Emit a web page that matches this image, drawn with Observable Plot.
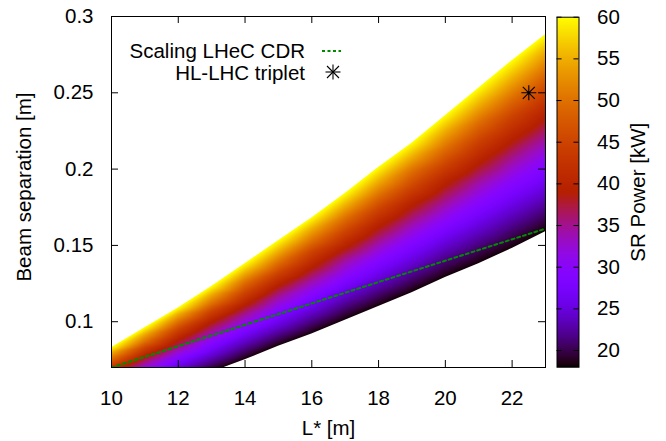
<!DOCTYPE html>
<html><head><meta charset="utf-8">
<script src="https://cdn.jsdelivr.net/npm/d3@7"></script>
<script src="https://cdn.jsdelivr.net/npm/@observablehq/plot@0.6"></script>
<style>
html,body{margin:0;padding:0;background:#fff;}
#wrap{position:relative;width:666px;height:441px;overflow:hidden;font-family:"Liberation Sans",Arial,sans-serif;}
#wrap svg{display:block}
#main{position:absolute;left:0;top:0}
#cbar{position:absolute;left:556px;top:0}
.leg{position:absolute;right:361px;font-size:20.5px;line-height:22px;white-space:nowrap;color:#000}
</style></head><body>
<div id="wrap"><div id="main"></div><div id="cbar"></div>
<div class="leg" style="top:40px">Scaling LHeC CDR</div>
<div class="leg" style="top:62px">HL-LHC triplet</div>
<svg style="position:absolute;left:318px;top:40px" width="32" height="45">
<line x1="4" y1="11" x2="23" y2="11" stroke="#008a00" stroke-width="2" stroke-dasharray="3,2.5"/>
<g stroke="#000" stroke-width="1.1" transform="translate(15,32)">
<line x1="-7.5" y1="0" x2="7.5" y2="0"/><line x1="0" y1="-7.5" x2="0" y2="7.5"/>
<line x1="-6" y1="-6" x2="6" y2="6"/><line x1="-6" y1="6" x2="6" y2="-6"/></g>
</svg>
</div>
<script>
// L* values (m) at which the SR-power contours were read
const lStar = [10, 11, 12, 13, 14, 15, 16, 17, 18, 19, 20, 21, 22, 23];
// SR power levels (kW) of the contours
const levels = [18, 25, 30, 35, 40, 45, 50, 55, 60];
// beam separation (m) of each contour at each L*
const sep18 = [0.045, 0.052, 0.060, 0.067, 0.075, 0.084, 0.092, 0.101, 0.110, 0.119, 0.129, 0.138, 0.148, 0.159];
const sep25 = [0.054, 0.062, 0.070, 0.079, 0.089, 0.098, 0.108, 0.119, 0.129, 0.140, 0.152, 0.163, 0.175, 0.187];
const sep30 = [0.059, 0.068, 0.077, 0.087, 0.097, 0.108, 0.119, 0.130, 0.142, 0.154, 0.166, 0.179, 0.192, 0.205];
const sep35 = [0.063, 0.073, 0.083, 0.094, 0.105, 0.117, 0.128, 0.141, 0.153, 0.166, 0.179, 0.193, 0.207, 0.221];
const sep40 = [0.068, 0.078, 0.089, 0.101, 0.112, 0.125, 0.137, 0.150, 0.164, 0.178, 0.192, 0.206, 0.221, 0.237];
const sep45 = [0.072, 0.083, 0.095, 0.107, 0.119, 0.132, 0.146, 0.159, 0.174, 0.188, 0.203, 0.219, 0.235, 0.251];
const sep50 = [0.076, 0.087, 0.100, 0.112, 0.126, 0.139, 0.153, 0.168, 0.183, 0.199, 0.214, 0.231, 0.247, 0.264];
const sep55 = [0.080, 0.092, 0.105, 0.118, 0.132, 0.146, 0.161, 0.176, 0.192, 0.208, 0.225, 0.242, 0.259, 0.277];
const sep60 = [0.083, 0.096, 0.109, 0.123, 0.138, 0.153, 0.168, 0.184, 0.201, 0.217, 0.235, 0.253, 0.271, 0.288];
// Scaling LHeC CDR line
const cdrL = [10, 23];
const cdrSep = [0.070, 0.161];
// HL-LHC triplet point
const starL = [22.5];
const starSep = [0.25];
// ticks
const xTicks = [10, 12, 14, 16, 18, 20, 22];
const yTicks = [0.1, 0.15, 0.2, 0.25, 0.3];
const cbTicks = [20, 25, 30, 35, 40, 45, 50, 55, 60];

const sepByLevel = [sep18, sep25, sep30, sep35, sep40, sep45, sep50, sep55, sep60];
const points = [];
levels.forEach((P, j) => lStar.forEach((L, i) => points.push({L, sep: sepByLevel[j][i], P})));

// gnuplot default palette (rgbformulae 7,5,15)
const cl = v => Math.max(0, Math.min(1, v));
const palette = t => d3.rgb(255 * cl(Math.sqrt(t)), 255 * cl(t * t * t), 255 * cl(Math.sin(2 * Math.PI * t))).toString();
const colorScale = {type: "linear", domain: [18, 60], interpolate: palette, clamp: true};

const starSymbol = {
  draw(ctx, size) {
    const r = Math.sqrt(size / Math.PI), a = r * 0.8;
    ctx.moveTo(-r, 0); ctx.lineTo(r, 0);
    ctx.moveTo(0, -r); ctx.lineTo(0, r);
    ctx.moveTo(-a, -a); ctx.lineTo(a, a);
    ctx.moveTo(-a, a); ctx.lineTo(a, -a);
  }
};

const font = {fontSize: "20.5px", fontFamily: "'Liberation Sans', Arial, sans-serif", background: "white", color: "black", overflow: "visible"};

const main = Plot.plot({
  width: 666, height: 441,
  marginLeft: 111, marginRight: 121, marginTop: 16, marginBottom: 74,
  style: font,
  x: {domain: [10, 23], ticks: xTicks, tickSize: 0, tickPadding: 23, label: null, tickFormat: d => String(d)},
  y: {domain: [0.07, 0.3], ticks: yTicks, tickSize: 0, tickPadding: 18, label: null, tickFormat: d => String(d)},
  color: colorScale,
  marks: [
    Plot.raster(points, {x: "L", y: "sep", fill: "P", interpolate: "barycentric", x1: 10, x2: 23, y1: 0.07, y2: 0.3}),
    Plot.areaY(lStar, {x: lStar, y1: sep60, y2: 0.3, fill: "white", clip: true}),
    Plot.areaY(lStar, {x: lStar, y1: 0.07, y2: sep18, fill: "white", clip: true}),
    Plot.line(cdrL, {x: cdrL, y: cdrSep, stroke: "#008a00", strokeWidth: 2, strokeDasharray: "3,3", clip: true}),
    Plot.dot(starL, {x: starL, y: starSep, r: 7.5, symbol: starSymbol, stroke: "black", fill: "none", strokeWidth: 1.1}),
    Plot.tickX(xTicks, {x: d => d, insetTop: 344, stroke: "black"}),
    Plot.tickX(xTicks, {x: d => d, insetBottom: 344, stroke: "black"}),
    Plot.tickY(yTicks, {y: d => d, insetRight: 427, stroke: "black"}),
    Plot.tickY(yTicks, {y: d => d, insetLeft: 427, stroke: "black"}),
    Plot.frame({stroke: "black"}),
    Plot.text(["L* [m]"], {text: d => d, frameAnchor: "bottom", textAnchor: "middle", dy: 67}),
    Plot.text(["Beam separation [m]"], {text: d => d, frameAnchor: "left", textAnchor: "middle", dx: -87, dy: -5, rotate: -90})
  ]
});
document.getElementById("main").appendChild(main);

const cbar = Plot.plot({
  width: 110, height: 441,
  marginLeft: 0.5, marginRight: 87.5, marginTop: 16.7, marginBottom: 74.3,
  style: font,
  x: {domain: [0, 1], axis: null},
  y: {domain: [18, 60], ticks: cbTicks, tickSize: 0, tickPadding: 18, axis: "right", label: null},
  color: colorScale,
  marks: [
    Plot.raster({fill: (x, y) => y, x1: 0, x2: 1, y1: 18, y2: 60}),
    Plot.ruleY(cbTicks, {y: d => d, x1: 0, x2: 0.23, stroke: "black"}),
    Plot.ruleY(cbTicks, {y: d => d, x1: 0.77, x2: 1, stroke: "black"}),
    Plot.frame({stroke: "black"}),
    Plot.text(["SR Power [kW]"], {text: d => d, frameAnchor: "right", textAnchor: "middle", dx: 59, rotate: -90})
  ]
});
document.getElementById("cbar").appendChild(cbar);
</script>
</body></html>
